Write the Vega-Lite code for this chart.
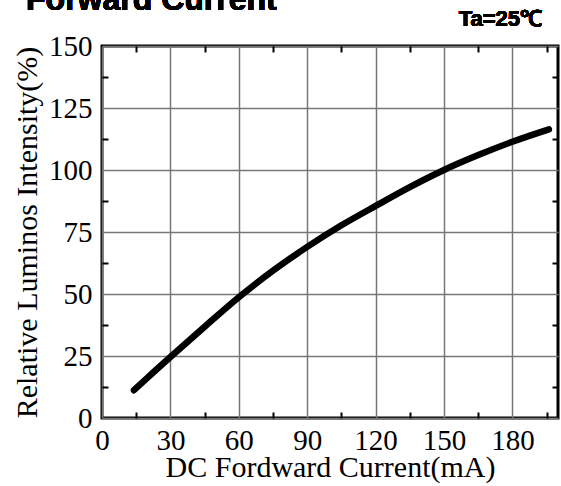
{
  "$schema": "https://vega.github.io/schema/vega-lite/v6.json",
  "width": 456,
  "height": 372,
  "autosize": {"type": "none"},
  "padding": {"left": 102, "top": 46, "right": 3, "bottom": 68},
  "background": "white",
  "config": {
    "view": {"stroke": "black", "strokeWidth": 3},
    "axis": {
      "domain": false,
      "labelFont": "Liberation Serif",
      "labelFontSize": 29,
      "labelColor": "black",
      "titleFont": "Liberation Serif",
      "titleFontSize": 30,
      "titleFontWeight": "normal",
      "titleColor": "black",
      "gridColor": "#777777",
      "gridWidth": 1.5,
      "gridOpacity": 1
    }
  },
  "data": {
    "values": [
      {"current": 14, "intensity": 11.2},
      {"current": 20, "intensity": 16.3},
      {"current": 30, "intensity": 24.6},
      {"current": 45, "intensity": 36.8},
      {"current": 60, "intensity": 48.7},
      {"current": 75, "intensity": 59.4},
      {"current": 90, "intensity": 69},
      {"current": 105, "intensity": 77.7},
      {"current": 120, "intensity": 85.5},
      {"current": 135, "intensity": 93.1},
      {"current": 150, "intensity": 100},
      {"current": 165, "intensity": 106},
      {"current": 180, "intensity": 111.4},
      {"current": 196, "intensity": 116.4}
    ]
  },
  "layer": [
    {
      "mark": {"type": "line", "opacity": 0},
      "encoding": {
        "x": {"field": "current", "type": "quantitative", "scale": {"domain": [0, 200], "nice": false},
          "axis": {"orient": "bottom", "values": [15, 45, 75, 105, 135, 165, 195], "labels": false, "grid": false, "tickSize": -6, "tickWidth": 2, "tickColor": "black", "title": null}},
        "y": {"field": "intensity", "type": "quantitative", "scale": {"domain": [0, 150], "nice": false},
          "axis": {"orient": "left", "values": [12.5, 37.5, 62.5, 87.5, 112.5, 137.5], "labels": false, "grid": false, "tickSize": -6, "tickWidth": 2, "tickColor": "black", "title": null}}
      }
    },
    {
      "mark": {"type": "line", "opacity": 0},
      "encoding": {
        "x": {"field": "current", "type": "quantitative",
          "axis": {"orient": "top", "values": [15, 45, 75, 105, 135, 165, 195], "labels": false, "grid": false, "tickSize": -6, "tickWidth": 2, "tickColor": "black", "title": null}},
        "y": {"field": "intensity", "type": "quantitative",
          "axis": {"orient": "right", "values": [12.5, 37.5, 62.5, 87.5, 112.5, 137.5], "labels": false, "grid": false, "tickSize": -6, "tickWidth": 2, "tickColor": "black", "title": null}}
      }
    },
    {
      "mark": {"type": "line", "color": "black", "strokeWidth": 6.5, "strokeCap": "round", "interpolate": "monotone"},
      "encoding": {
        "x": {"field": "current", "type": "quantitative",
          "axis": {"orient": "bottom", "values": [0, 30, 60, 90, 120, 150, 180], "grid": true, "ticks": false, "labelPadding": 8, "labelFlush": false, "title": "DC Fordward Current(mA)", "titlePadding": -3}},
        "y": {"field": "intensity", "type": "quantitative",
          "axis": {"orient": "left", "values": [0, 25, 50, 75, 100, 125, 150], "grid": true, "ticks": false, "labelPadding": 10, "labelFlush": false, "title": "Relative Luminos Intensity(%)", "titlePadding": 6}}
      }
    },
    {
      "mark": {"type": "text", "font": "Liberation Sans", "fontSize": 22, "fontWeight": "bold", "align": "right", "baseline": "alphabetic", "color": "black"},
      "encoding": {
        "x": {"datum": 193, "axis": null},
        "y": {"datum": 158, "axis": null},
        "text": {"value": "Ta=25℃"}
      }
    },
    {
      "mark": {"type": "text", "font": "Liberation Sans", "fontSize": 32, "fontWeight": "bold", "align": "left", "baseline": "alphabetic", "color": "black"},
      "encoding": {
        "x": {"datum": -33.3, "axis": null},
        "y": {"datum": 164.7, "axis": null},
        "text": {"value": "Forward Current"}
      }
    }
  ],
  "resolve": {"axis": {"x": "independent", "y": "independent"}}
}
